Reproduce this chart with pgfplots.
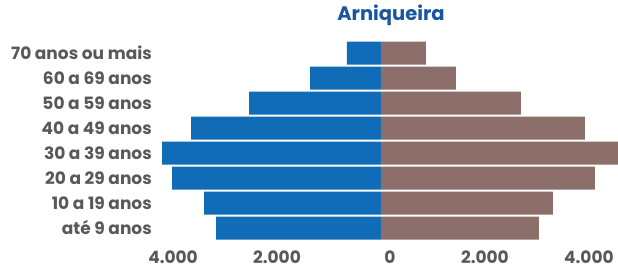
\documentclass[border=0pt]{standalone}
\usepackage{pgfplots}
\pgfplotsset{compat=1.18}
\usepackage{fontspec}
\setmainfont{Poppins}
\definecolor{fem}{HTML}{106CB6}
\definecolor{masc}{HTML}{8C6E6A}
\definecolor{lab}{HTML}{595959}
\definecolor{tit}{HTML}{1A56A0}
\begin{document}
\begin{tikzpicture}
\useasboundingbox (-159bp,-28.5bp) rectangle (459bp,240.5bp);
\begin{axis}[
  at={(0,0)}, anchor=south west, scale only axis,
  width=459bp, height=200bp,
  xmin=-4270, xmax=4560, ymin=0.5, ymax=8.5,
  xbar, bar width=0.92, bar shift=0,
  axis line style={draw=none}, tick style={draw=none}, major tick length=0pt,
  xtick={-4000,-2000,0,2000,4000},
  xticklabels={4.000,2.000,\hspace*{18bp}0,2.000,4.000},
  ytick={1,...,8},
  yticklabels={até 9 anos,10 a 19 anos,20 a 29 anos,30 a 39 anos,40 a 49 anos,50 a 59 anos,60 a 69 anos,70 anos ou mais},
  tick label style={font=\bfseries\fontsize{17bp}{18bp}\selectfont, text=lab},
  xticklabel style={anchor=base, inner sep=0pt, text depth=0pt, yshift=-23bp},
  yticklabel style={anchor=base east, inner sep=0pt, xshift=-7bp, yshift=-6.5bp},
  title={Arniqueira},
  title style={font=\bfseries\fontsize{19.5bp}{21bp}\selectfont, text=tit, at={(rel axis cs:0.5054,1.069)}, anchor=base, inner sep=0pt},
  clip=true,
]
\addplot[fill=fem, draw=none] coordinates {(-3173,1) (-3404,2) (-4019,3) (-4212,4) (-3654,5) (-2538,6) (-1365,7) (-654,8)};
\addplot[fill=masc, draw=none] coordinates {(3038,1) (3308,2) (4115,3) (4600,4) (3923,5) (2692,6) (1442,7) (865,8)};
\end{axis}
\end{tikzpicture}
\end{document}
